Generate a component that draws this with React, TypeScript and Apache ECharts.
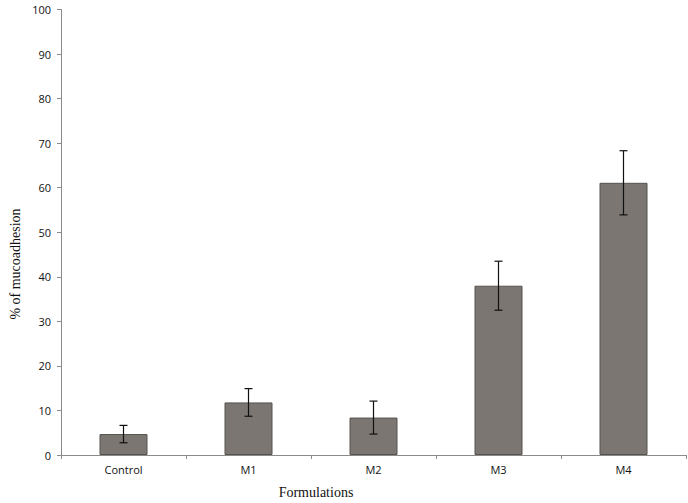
import React, { useEffect, useRef } from "react";
import * as echarts from "echarts";

const categories = ["Control", "M1", "M2", "M3", "M4"];
const values = [4.7, 11.8, 8.4, 38.0, 61.1];
const errors = [1.95, 3.1, 3.7, 5.5, 7.2];
const yTicks = { min: 0, max: 100, interval: 10 };

export default function App() {
  const ref = useRef<HTMLDivElement>(null);
  useEffect(() => {
    if (!ref.current) return;
    const chart = echarts.init(ref.current, undefined, { renderer: "svg" });
    const errData = values.map((v, i) => [i, v - errors[i], v + errors[i]]);
    chart.setOption({
      animation: false,
      backgroundColor: "#ffffff",
      grid: { left: 61, top: 9.5, right: 2, bottom: 48, containLabel: false },
      xAxis: {
        type: "category",
        data: categories,
        axisLine: { lineStyle: { color: "#8a8a8a", width: 1 } },
        axisTick: { show: true, alignWithLabel: false, length: 4, lineStyle: { color: "#8a8a8a" } },
        axisLabel: { color: "#111", fontSize: 11, fontFamily: "Open Sans", margin: 9 },
      },
      yAxis: {
        type: "value",
        min: yTicks.min,
        max: yTicks.max,
        interval: yTicks.interval,
        splitLine: { show: false },
        axisLine: { show: true, lineStyle: { color: "#8a8a8a", width: 1 } },
        axisTick: { show: true, length: 4, lineStyle: { color: "#8a8a8a" } },
        axisLabel: { color: "#111", fontSize: 11, fontFamily: "Open Sans", margin: 10 },
      },
      graphic: [
        {
          type: "text",
          x: 316,
          y: 492,
          style: {
            text: "Formulations",
            font: "14px 'Liberation Serif'",
            fill: "#111",
            align: "center",
            verticalAlign: "middle",
          },
        },
        {
          type: "text",
          x: 15,
          y: 264,
          rotation: Math.PI / 2,
          style: {
            text: "% of mucoadhesion",
            font: "14px 'Liberation Serif'",
            fill: "#111",
            align: "center",
            verticalAlign: "middle",
          },
        },
      ],
      series: [
        {
          type: "bar",
          data: values,
          barWidth: 48,
          itemStyle: { color: "#7b7671", borderColor: "#56524e", borderWidth: 1 },
        },
        {
          type: "custom",
          data: errData,
          z: 10,
          renderItem: (params: any, api: any) => {
            const x = api.value(0);
            const lo = api.coord([x, api.value(1)]);
            const hi = api.coord([x, api.value(2)]);
            const w = 4;
            const style = { stroke: "#111", lineWidth: 1.2 };
            return {
              type: "group",
              children: [
                { type: "line", shape: { x1: hi[0], y1: hi[1], x2: lo[0], y2: lo[1] }, style },
                { type: "line", shape: { x1: hi[0] - w, y1: hi[1], x2: hi[0] + w, y2: hi[1] }, style },
                { type: "line", shape: { x1: lo[0] - w, y1: lo[1], x2: lo[0] + w, y2: lo[1] }, style },
              ],
            };
          },
        },
      ],
    });
    return () => chart.dispose();
  }, []);
  return <div ref={ref} style={{ width: 688, height: 503, position: "absolute", left: 0, top: 0 }} />;
}
